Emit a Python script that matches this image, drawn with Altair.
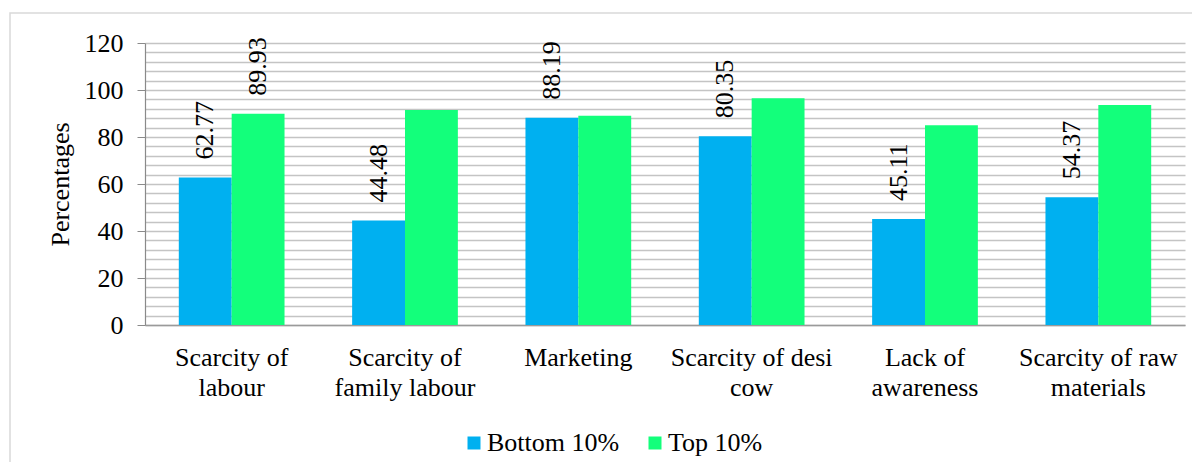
import altair as alt
import pandas as pd

categories = [
    "Scarcity of\nlabour",
    "Scarcity of\nfamily labour",
    "Marketing",
    "Scarcity of desi\ncow",
    "Lack of\nawareness",
    "Scarcity of raw\nmaterials",
]
series = ["Bottom 10%", "Top 10%"]
bottom_values = [62.77, 44.48, 88.19, 80.35, 45.11, 54.37]
top_values = [89.93, 91.5, 89.0, 96.5, 85.0, 93.6]
bottom_labels = ["62.77", "44.48", "88.19", "80.35", "45.11", "54.37"]
top_labels = ["89.93", "", "", "", "", ""]
colors = ["#00B0F0", "#13FF7B"]
major_ticks = [0, 20, 40, 60, 80, 100, 120]
minor_grid = [0, 4, 8, 12, 16, 20, 24, 28, 32, 36, 40, 44, 48, 52, 56, 60,
              64, 68, 72, 76, 80, 84, 88, 92, 96, 100, 104, 108, 112, 116, 120]

rows = []
for i, c in enumerate(categories):
    rows.append({"category": c, "series": series[0], "value": bottom_values[i], "label": bottom_labels[i]})
    rows.append({"category": c, "series": series[1], "value": top_values[i], "label": top_labels[i]})
df = pd.DataFrame(rows)

FONT = "Liberation Serif"
FS = 26
W, H = 1040, 282

x_enc = alt.X(
    "category:N", sort=categories,
    scale=alt.Scale(paddingInner=0.39, paddingOuter=0.195),
    axis=alt.Axis(
        title=None, labelAngle=0, labelFont=FONT, labelFontSize=FS, labelColor="black",
        labelExpr="split(datum.value, '\\n')", labelLineHeight=30, labelPadding=19,
        ticks=False, domainColor="#9a9a9a", domainWidth=1.5, labelBaseline="top",
    ),
)
xoff = alt.XOffset("series:N", sort=series, scale=alt.Scale(paddingInner=0, paddingOuter=0))
yscale = alt.Scale(domain=[0, 120], nice=False)

bars = alt.Chart(df).mark_bar().encode(
    x=x_enc,
    xOffset=xoff,
    y=alt.Y(
        "value:Q", scale=yscale,
        axis=alt.Axis(
            values=major_ticks, grid=False, title="Percentages", titleFont=FONT,
            titleFontSize=FS, titleFontWeight="normal", titleColor="black",
            titleAngle=270, titleX=-85, titleY=H / 2, titleAlign="center", titleBaseline="middle",
            labelFont=FONT, labelFontSize=FS, labelColor="black", labelPadding=14,
            tickSize=8, tickColor="#8a8a8a", domainColor="#8a8a8a", domainWidth=1.2,
        ),
    ),
    color=alt.Color(
        "series:N", sort=series, scale=alt.Scale(domain=series, range=colors),
        legend=alt.Legend(
            title=None, orient="none", legendX=316, legendY=387, direction="horizontal",
            labelFont=FONT, labelFontSize=FS, labelColor="black", symbolType="square",
            symbolSize=169, symbolStrokeWidth=0, labelOffset=0, columnPadding=22,
        ),
    ),
)

labels = alt.Chart(df).mark_text(
    angle=270, align="left", baseline="middle", dx=18, font=FONT, fontSize=FS, color="black"
).encode(
    x=x_enc,
    xOffset=xoff,
    y=alt.Y(
        "value:Q", scale=yscale,
        axis=alt.Axis(values=minor_grid, grid=True, gridColor="#c4c4c4", gridWidth=1.3,
                      labels=False, ticks=False, domain=False, title=None, orient="right"),
    ),
    text="label:N",
)

frame = alt.Chart(pd.DataFrame({"a": [0]})).mark_rect(
    filled=False, stroke="#d9d9d9", strokeWidth=1.5
).encode(
    x=alt.value(-135), x2=alt.value(W + 60), y=alt.value(-30), y2=alt.value(H + 200)
)

chart = alt.layer(frame, bars, labels).resolve_axis(y="independent").properties(
    width=W, height=H,
    autosize=alt.AutoSizeParams(type="none"),
    padding={"left": 137, "top": 35, "right": 7, "bottom": 137},
).configure(background="white", font=FONT).configure_view(stroke=None).configure_text(
    font=FONT, fontSize=FS
).configure_legend(labelFont=FONT, labelFontSize=FS)

chart.save("out.html", embed_options={"renderer": "svg", "actions": False})
